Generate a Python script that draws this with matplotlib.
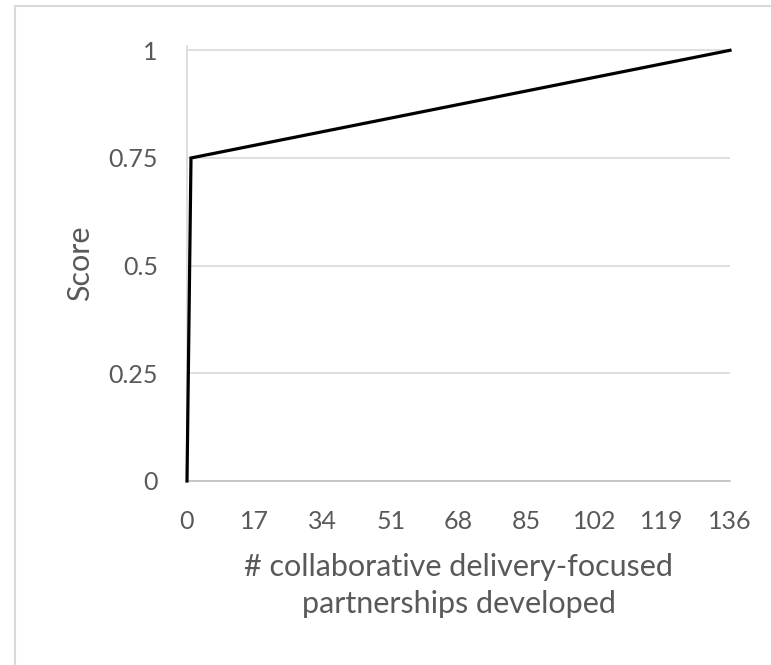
import numpy as np
import matplotlib.pyplot as plt
from matplotlib.patches import Rectangle

# scoring curve: partnerships developed vs score
partnerships = [0, 1, 136]
score = [0, 0.75, 1]
x_ticks = [0, 17, 34, 51, 68, 85, 102, 119, 136]
y_ticks = [0, 0.25, 0.5, 0.75, 1]
y_tick_labels = ['0', '0.25', '0.5', '0.75', '1']

plt.rcParams['font.family'] = ['Lato', 'DejaVu Sans']
text_col = '#595959'

fig = plt.figure(figsize=(7.71, 6.65), dpi=100)
ax = fig.add_axes([187/771, 1 - 481/665, (730 - 187)/771, (481 - 46)/665 * 1.0])

# chart area border (runs off the right/bottom edge)
fig.patches.append(Rectangle((15/771, -0.1), 1.2, 1 - 6/665 + 0.1,
                             transform=fig.transFigure, fill=False,
                             edgecolor='#d9d9d9', lw=1.5, zorder=0))

ax.plot(partnerships, score, color='black', lw=2.3, solid_joinstyle='miter',
        zorder=3, clip_on=False)

ax.set_xlim(0, 136)
ax.set_ylim(0, 1.01)
ax.set_xticks(x_ticks)
ax.set_yticks(y_ticks)
ax.set_yticklabels(y_tick_labels)
ax.yaxis.grid(True, color='#d9d9d9', lw=1.2)
ax.set_axisbelow(True)

for s in ['top', 'right']:
    ax.spines[s].set_visible(False)
ax.spines['left'].set_color('#d9d9d9')
ax.spines['left'].set_linewidth(1.2)
ax.spines['bottom'].set_color('#bfbfbf')
ax.spines['bottom'].set_linewidth(1.2)

ax.tick_params(axis='both', length=0, labelsize=18, labelcolor=text_col)
ax.tick_params(axis='y', pad=21)
ax.tick_params(axis='x', pad=21)

ax.set_ylabel('Score', fontsize=22, color=text_col, labelpad=10)
ax.set_xlabel('# collaborative delivery-focused\npartnerships developed',
              fontsize=22, color=text_col, labelpad=14, linespacing=1.4)

fig.savefig('out.png', dpi=100)
